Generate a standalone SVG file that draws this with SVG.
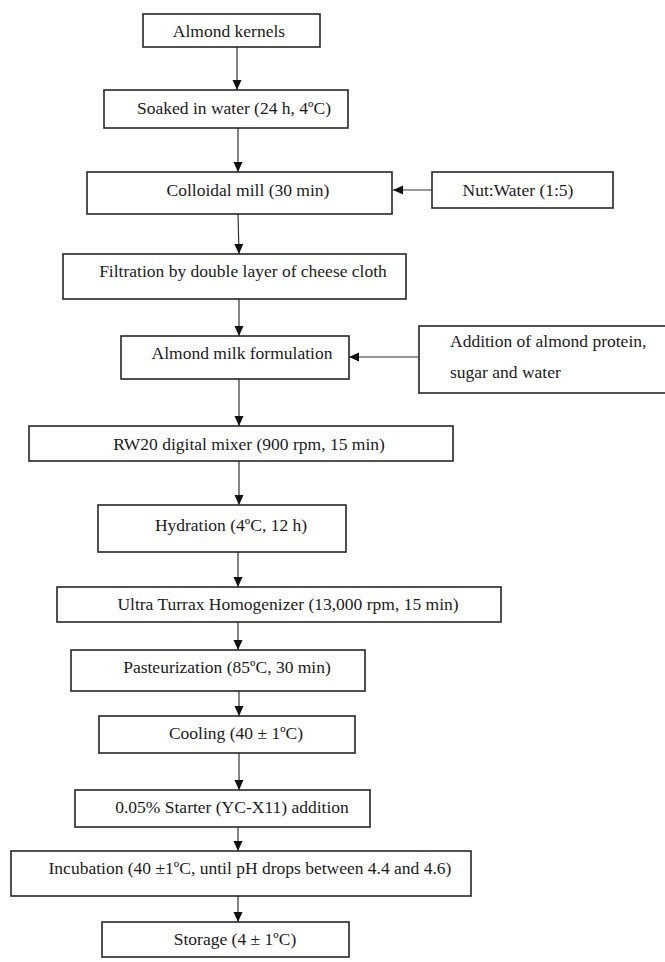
<svg xmlns="http://www.w3.org/2000/svg" width="665" height="962" viewBox="0 0 665 962">
<style>
.box{fill:#fff;stroke:#262626;stroke-width:1.6}
.t{font-family:"Liberation Serif","Times New Roman",serif;font-size:17.5px;fill:#1a1a1a;text-anchor:middle}
.tl{font-family:"Liberation Serif","Times New Roman",serif;font-size:17.5px;fill:#1a1a1a;text-anchor:start}
.c{stroke:#333;stroke-width:1.2;fill:none;marker-end:url(#ah)}
</style>
<defs>
<marker id="ah" markerUnits="userSpaceOnUse" markerWidth="10" markerHeight="10" refX="10" refY="4.5" orient="auto">
<path d="M0,0 L10,4.5 L0,9 Z" fill="#111"/>
</marker>
</defs>
<rect width="665" height="962" fill="#fff"/>
<g id="connectors">
<line class="c" x1="237" y1="47" x2="237" y2="90"/>
<line class="c" x1="238" y1="128" x2="238" y2="172"/>
<line class="c" x1="238" y1="214" x2="239" y2="254"/>
<line class="c" x1="239" y1="299" x2="239" y2="336"/>
<line class="c" x1="239" y1="379" x2="239" y2="426"/>
<line class="c" x1="239" y1="461" x2="239" y2="505"/>
<line class="c" x1="238" y1="552" x2="238" y2="587"/>
<line class="c" x1="238" y1="622" x2="238" y2="650"/>
<line class="c" x1="239" y1="691" x2="239" y2="716"/>
<line class="c" x1="239" y1="753" x2="239" y2="790"/>
<line class="c" x1="238" y1="827" x2="238" y2="851"/>
<line class="c" x1="238" y1="896" x2="238" y2="922"/>
<line class="c" x1="432" y1="190" x2="393" y2="190"/>
<line class="c" x1="419" y1="357" x2="349" y2="357"/>
</g>
<g id="n1"><rect class="box" x="143" y="14" width="177" height="33"/><text class="t" x="229" y="37">Almond kernels</text></g>
<g id="n2"><rect class="box" x="104" y="90" width="244" height="38"/><text class="t" x="234" y="114">Soaked in water (24 h, 4ºC)</text></g>
<g id="n3"><rect class="box" x="87" y="172" width="305" height="42"/><text class="t" x="248" y="196">Colloidal mill (30 min)</text></g>
<g id="n4"><rect class="box" x="432" y="172" width="181" height="36"/><text class="t" x="518" y="196">Nut:Water (1:5)</text></g>
<g id="n5"><rect class="box" x="63" y="254" width="343" height="45"/><text class="t" x="243" y="277">Filtration by double layer of cheese cloth</text></g>
<g id="n6"><rect class="box" x="121" y="336" width="228" height="43"/><text class="t" x="242" y="359">Almond milk formulation</text></g>
<g id="n7"><rect class="box" x="419" y="326" width="250" height="67"/><text class="tl" x="450" y="347">Addition of almond protein,</text><text class="tl" x="450" y="378">sugar and water</text></g>
<g id="n8"><rect class="box" x="29" y="426" width="424" height="35"/><text class="t" x="249" y="450">RW20 digital mixer (900 rpm, 15 min)</text></g>
<g id="n9"><rect class="box" x="98" y="505" width="248" height="47"/><text class="t" x="231" y="531">Hydration (4ºC, 12 h)</text></g>
<g id="n10"><rect class="box" x="57" y="587" width="444" height="35"/><text class="t" x="288" y="610">Ultra Turrax Homogenizer (13,000 rpm, 15 min)</text></g>
<g id="n11"><rect class="box" x="71" y="650" width="294" height="41"/><text class="t" x="227" y="673">Pasteurization (85ºC, 30 min)</text></g>
<g id="n12"><rect class="box" x="99" y="716" width="256" height="37"/><text class="t" x="236" y="739">Cooling (40 ± 1ºC)</text></g>
<g id="n13"><rect class="box" x="75" y="790" width="295" height="37"/><text class="t" x="232" y="813">0.05% Starter (YC-X11) addition</text></g>
<g id="n14"><rect class="box" x="11" y="851" width="460" height="45"/><text class="t" x="250" y="874">Incubation (40 ±1ºC, until pH drops between 4.4 and 4.6)</text></g>
<g id="n15"><rect class="box" x="102" y="922" width="247" height="35"/><text class="t" x="235" y="945">Storage (4 ± 1ºC)</text></g>
</svg>
